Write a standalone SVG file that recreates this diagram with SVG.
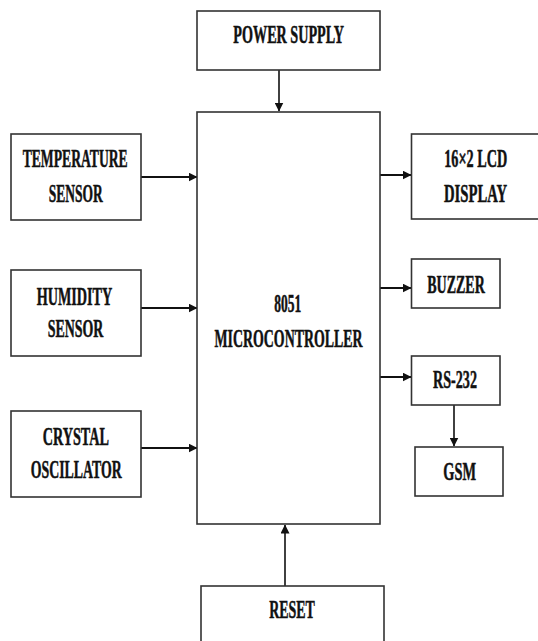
<svg xmlns="http://www.w3.org/2000/svg" width="538" height="641" viewBox="0 0 538 641">
<style>
.box{fill:#fff;stroke:#333;stroke-width:1.6}
.lbl{font-family:"Liberation Serif","Times New Roman",serif;font-weight:bold;font-size:24.5px;fill:#111;stroke:#111;stroke-width:0.5;text-anchor:middle}
.con{stroke:#111;fill:none}
.h{stroke-width:2}
.v{stroke-width:1.6}
</style>
<defs>
<marker id="ah" markerUnits="userSpaceOnUse" markerWidth="9" markerHeight="9" refX="8.5" refY="4.5" orient="auto">
<path d="M0,0 L9,4.5 L0,9 z" fill="#111"/>
</marker>
</defs>
<rect width="538" height="641" fill="#fff"/>
<g id="connectors">
<line class="con v" x1="279" y1="70" x2="279" y2="111" marker-end="url(#ah)"/>
<line class="con h" x1="141" y1="177" x2="197" y2="177" marker-end="url(#ah)"/>
<line class="con h" x1="141" y1="308" x2="197" y2="308" marker-end="url(#ah)"/>
<line class="con h" x1="141" y1="448" x2="197" y2="448" marker-end="url(#ah)"/>
<line class="con h" x1="380" y1="175" x2="411" y2="175" marker-end="url(#ah)"/>
<line class="con h" x1="380" y1="288" x2="411" y2="288" marker-end="url(#ah)"/>
<line class="con h" x1="380" y1="377" x2="411" y2="377" marker-end="url(#ah)"/>
<line class="con v" x1="454" y1="405" x2="454" y2="446" marker-end="url(#ah)"/>
<line class="con v" x1="285" y1="586" x2="285" y2="525" marker-end="url(#ah)"/>
</g>
<g id="power">
<rect class="box" x="197" y="11" width="183" height="59"/>
<text class="lbl" x="288.7" y="43.3" textLength="110.7" lengthAdjust="spacingAndGlyphs">POWER SUPPLY</text>
</g>
<g id="mcu">
<rect class="box" x="197" y="112" width="183" height="412"/>
<text class="lbl" x="287.8" y="311.7" textLength="27" lengthAdjust="spacingAndGlyphs">8051</text>
<text class="lbl" x="288.5" y="346.7" textLength="148" lengthAdjust="spacingAndGlyphs">MICROCONTROLLER</text>
</g>
<g id="temp">
<rect class="box" x="11" y="134" width="130" height="86"/>
<text class="lbl" x="75.2" y="166.7" textLength="105" lengthAdjust="spacingAndGlyphs">TEMPERATURE</text>
<text class="lbl" x="75.8" y="201.7" textLength="54" lengthAdjust="spacingAndGlyphs">SENSOR</text>
</g>
<g id="humidity">
<rect class="box" x="11" y="270" width="130" height="86"/>
<text class="lbl" x="74.5" y="305" textLength="75.6" lengthAdjust="spacingAndGlyphs">HUMIDITY</text>
<text class="lbl" x="75.5" y="337.3" textLength="55.6" lengthAdjust="spacingAndGlyphs">SENSOR</text>
</g>
<g id="crystal">
<rect class="box" x="11" y="411" width="130" height="86"/>
<text class="lbl" x="75.8" y="445" textLength="66.3" lengthAdjust="spacingAndGlyphs">CRYSTAL</text>
<text class="lbl" x="76.2" y="478.3" textLength="91" lengthAdjust="spacingAndGlyphs">OSCILLATOR</text>
</g>
<g id="lcd">
<rect class="box" x="411.5" y="134" width="130" height="85"/>
<text class="lbl" x="475.7" y="166.7" textLength="63" lengthAdjust="spacingAndGlyphs">16×2 LCD</text>
<text class="lbl" x="475.5" y="201.7" textLength="63" lengthAdjust="spacingAndGlyphs">DISPLAY</text>
</g>
<g id="buzzer">
<rect class="box" x="411.5" y="259" width="88.5" height="49"/>
<text class="lbl" x="456" y="293.3" textLength="57.7" lengthAdjust="spacingAndGlyphs">BUZZER</text>
</g>
<g id="rs232">
<rect class="box" x="411.5" y="356" width="88.5" height="49"/>
<text class="lbl" x="455" y="388.3" textLength="44" lengthAdjust="spacingAndGlyphs">RS-232</text>
</g>
<g id="gsm">
<rect class="box" x="415" y="447" width="88" height="49"/>
<text class="lbl" x="459.7" y="480" textLength="32.7" lengthAdjust="spacingAndGlyphs">GSM</text>
</g>
<g id="reset">
<rect class="box" x="201" y="586" width="183" height="60"/>
<text class="lbl" x="292" y="618.3" textLength="45.7" lengthAdjust="spacingAndGlyphs">RESET</text>
</g>
</svg>
